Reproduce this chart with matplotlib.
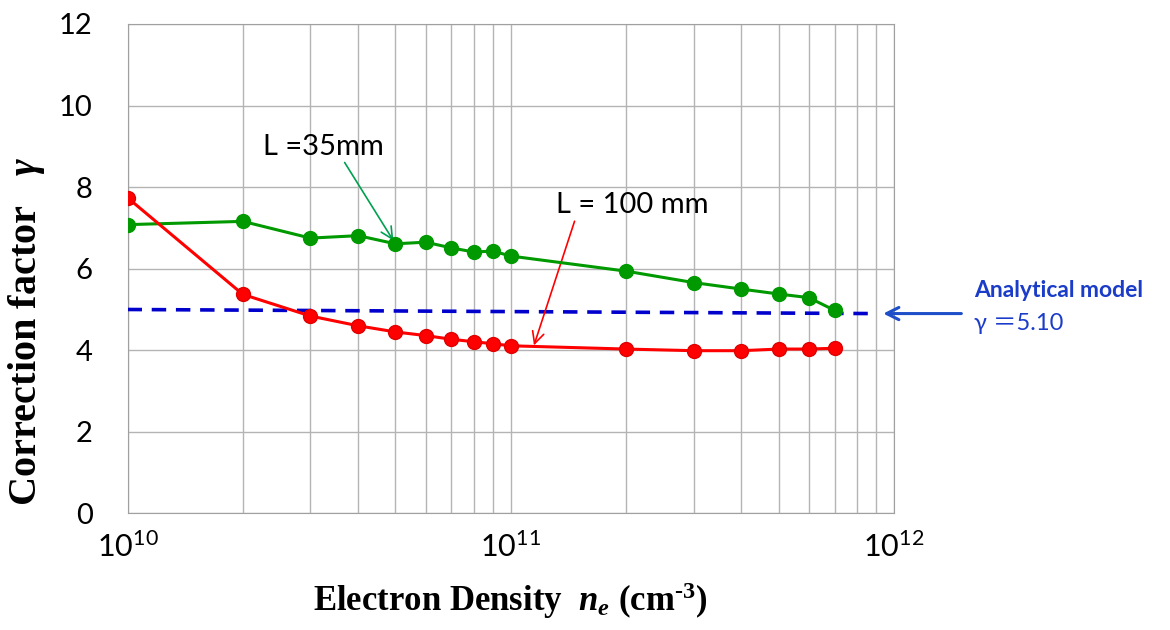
import numpy as np
import matplotlib
matplotlib.use("Agg")
import matplotlib.pyplot as plt

# electron density (cm^-3)
ne = np.array([1e10, 2e10, 3e10, 4e10, 5e10, 6e10, 7e10, 8e10, 9e10,
               1e11, 2e11, 3e11, 4e11, 5e11, 6e11, 7e11])
# correction factor, L = 35 mm
gamma_35 = np.array([7.08, 7.16, 6.75, 6.81, 6.61, 6.65, 6.51, 6.41, 6.43,
                     6.31, 5.94, 5.66, 5.50, 5.38, 5.29, 4.98])
# correction factor, L = 100 mm
gamma_100 = np.array([7.74, 5.37, 4.84, 4.60, 4.45, 4.36, 4.27, 4.21, 4.16,
                      4.11, 4.03, 3.99, 3.99, 4.03, 4.03, 4.05])
# analytical model line end points
model_x = [1e10, 8.8e11]
model_y = [5.0, 4.9]

plt.rcParams['mathtext.fontset'] = 'custom'
plt.rcParams['mathtext.rm'] = 'Liberation Serif:bold'
plt.rcParams['mathtext.bf'] = 'Liberation Serif:bold'
plt.rcParams['mathtext.it'] = 'Liberation Serif:italic:bold'
plt.rcParams['mathtext.sf'] = 'Lato'

fig = plt.figure(figsize=(11.7, 6.3), dpi=100)
ax = fig.add_axes([0.109, 0.185, 0.655, 0.777])

grid_c = '#b4b4b4'
ax.plot(model_x, model_y, '--', color='#0000cc', lw=2.6, dashes=(4, 2.7), zorder=3)
ax.plot(ne, gamma_35, '-o', color='#009900', lw=2.2, ms=10, zorder=4)
ax.plot(ne, gamma_100, '-o', color='#ff0000', mec='#e00000', lw=2.2, ms=10, zorder=4)

ax.set_xscale('log')
ax.set_xlim(1e10, 1e12)
ax.set_ylim(0, 12)
ax.set_yticks(np.arange(0, 13, 2))
ax.set_xticks([1e10, 1e11, 1e12])
ax.set_xticklabels([r'$\mathsf{10^{10}}$', r'$\mathsf{10^{11}}$', r'$\mathsf{10^{12}}$'])
ax.set_xticks([m * 10.0 ** e for e in (10, 11) for m in range(2, 10)], minor=True)
ax.xaxis.set_minor_formatter(plt.NullFormatter())
ax.grid(True, which='both', color=grid_c, lw=1)
ax.tick_params(which='both', length=0)
ax.tick_params(axis='y', pad=25, labelsize=21)
ax.tick_params(axis='x', pad=14, labelsize=22)
for lab in ax.get_yticklabels():
    lab.set_fontfamily('Lato')
for s in ax.spines.values():
    s.set_color('#a0a0a0')

ax.set_xlabel(r'Electron Density  $n_e$ (cm$^{\text{-3}}$)', fontfamily='Liberation Serif',
              fontweight='bold', fontsize=25, labelpad=12)
ax.set_ylabel(r'Correction factor   $\gamma$', fontfamily='Liberation Serif',
              fontweight='bold', fontsize=29)
ax.yaxis.set_label_coords(-0.105, 0.372)

ax.annotate('L =35mm', xy=(4.94e10, 6.69), xytext=(2.26e10, 8.99),
            fontsize=21, fontfamily='Lato', va='center', ha='left',
            arrowprops=dict(arrowstyle='->', color='#00a050', lw=1.2,
                            shrinkA=0, shrinkB=0, relpos=(0.66, 0.0)))
ax.annotate('L = 100 mm', xy=(1.15e11, 4.12), xytext=(1.31e11, 7.55),
            fontsize=21, fontfamily='Lato', va='center', ha='left',
            arrowprops=dict(arrowstyle='->', color='#ff0000', lw=1.2,
                            shrinkA=0, shrinkB=0, relpos=(0.13, 0.0)))

ax.annotate('', xy=(9.38e11, 4.9), xytext=(1.5e12, 4.9), annotation_clip=False,
            arrowprops=dict(arrowstyle='->', color='#1f4fc8', lw=2.2,
                            shrinkA=0, shrinkB=0, mutation_scale=22))
ax.text(1.62e12, 5.47, 'Analytical model', color='#1a3cc8', fontsize=16.5,
        fontweight='bold', fontfamily='Lato', va='center', ha='left', clip_on=False)
ax.text(1.62e12, 4.66, 'γ ＝5.10', color='#1a3cc8', fontsize=17,
        fontfamily=['Lato', 'Noto Sans CJK JP', 'DejaVu Sans'], va='center', ha='left',
        clip_on=False)

fig.savefig('out.png', dpi=100)
